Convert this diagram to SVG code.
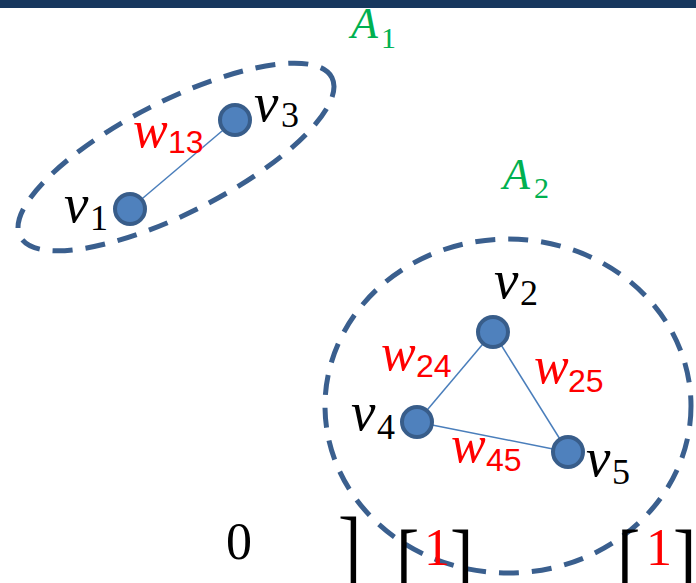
<svg xmlns="http://www.w3.org/2000/svg" width="696" height="583" viewBox="0 0 696 583">
<style>
.grp{fill:none;stroke:#3a5f8e;stroke-width:5;stroke-dasharray:20 13}
.edge{stroke:#4a7ebb;stroke-width:1.5}
.node{fill:#4f81bd;stroke:#385d8a;stroke-width:4}
.it{font-family:"Liberation Serif","DejaVu Serif",serif;font-style:italic}
.sub{font-family:"Liberation Serif","DejaVu Serif",serif;font-style:normal}
.wsub{font-family:"Liberation Sans","DejaVu Sans",sans-serif;font-style:normal}
.blk{fill:#000}
.red{fill:#ff0000}
.grn{fill:#00b050}
.br{font-family:"Liberation Serif","DejaVu Serif",serif;font-size:70px;fill:#000}
.num{font-family:"Liberation Serif","DejaVu Serif",serif;font-size:52px}
</style>
<rect x="0" y="0" width="696" height="8" fill="#17375e"/>
<g id="groups">
<ellipse id="A1-ring" class="grp" cx="176" cy="157" rx="175" ry="56" transform="rotate(-27 176 157)"/>
<ellipse id="A2-ring" class="grp" cx="508" cy="406" rx="183" ry="167"/>
</g>
<g id="connectors">
<line class="edge" x1="130" y1="209" x2="235" y2="120"/>
<line class="edge" x1="493" y1="332" x2="417" y2="422"/>
<line class="edge" x1="493" y1="332" x2="568" y2="452"/>
<line class="edge" x1="417" y1="422" x2="568" y2="452"/>
</g>
<g id="v1"><circle class="node" cx="130" cy="209" r="15"/><text class="it blk" x="64" y="222" font-size="55">v</text><text class="sub blk" x="90" y="230" font-size="36">1</text></g>
<g id="v3"><circle class="node" cx="235" cy="120" r="15"/><text class="it blk" x="254" y="121" font-size="55">v</text><text class="sub blk" x="281" y="127" font-size="36">3</text></g>
<g id="v2"><circle class="node" cx="493" cy="332" r="15"/><text class="it blk" x="494" y="298" font-size="55">v</text><text class="sub blk" x="520" y="305" font-size="36">2</text></g>
<g id="v4"><circle class="node" cx="417" cy="422" r="15"/><text class="it blk" x="351" y="430" font-size="55">v</text><text class="sub blk" x="377" y="439" font-size="36">4</text></g>
<g id="v5"><circle class="node" cx="568" cy="452" r="15"/><text class="it blk" x="586" y="476" font-size="55">v</text><text class="sub blk" x="612" y="484" font-size="36">5</text></g>
<g id="w13"><text class="it red" x="133" y="147" font-size="52">w</text><text class="wsub red" x="168" y="153" font-size="32">13</text></g>
<g id="w24"><text class="it red" x="381" y="370" font-size="52">w</text><text class="wsub red" x="416" y="377" font-size="32">24</text></g>
<g id="w25"><text class="it red" x="534" y="383" font-size="52">w</text><text class="wsub red" x="568" y="392" font-size="32">25</text></g>
<g id="w45"><text class="it red" x="451" y="462" font-size="52">w</text><text class="wsub red" x="486" y="471" font-size="32">45</text></g>
<g id="A1"><text class="it grn" x="351" y="38" font-size="44">A</text><text class="sub grn" x="381" y="48" font-size="30">1</text></g>
<g id="A2"><text class="it grn" x="503" y="189" font-size="44">A</text><text class="sub grn" x="534" y="198" font-size="30">2</text></g>
<g id="matrix">
<text class="num blk" x="226" y="559">0</text>
<text class="br" transform="translate(338 580) scale(1 1.3)">]</text>
<text class="br" transform="translate(396 593) scale(1 1.3)">[</text>
<text class="num red" x="424" y="565">1</text>
<text class="br" transform="translate(450 593) scale(1 1.3)">]</text>
<text class="br" transform="translate(617 593) scale(1 1.3)">[</text>
<text class="num red" x="646" y="565">1</text>
<text class="br" transform="translate(673 593) scale(1 1.3)">]</text>
</g>
</svg>
